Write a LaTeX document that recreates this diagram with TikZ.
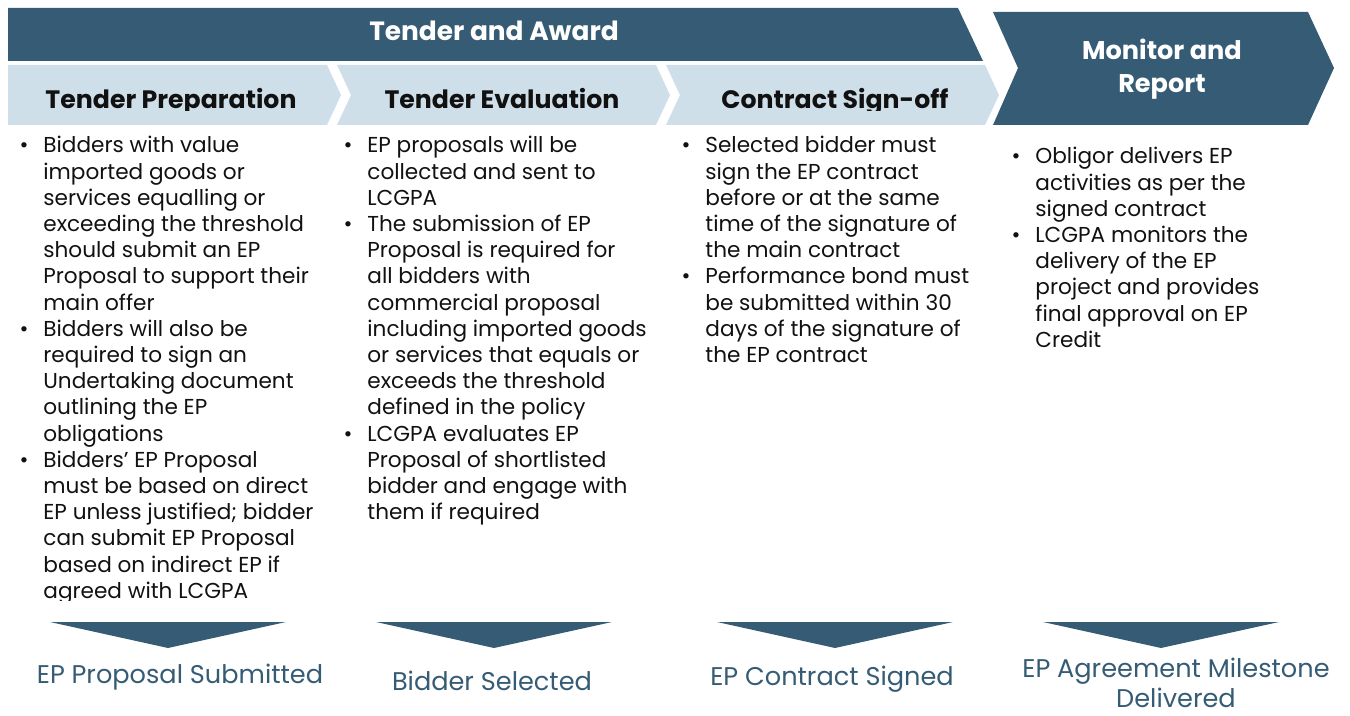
\documentclass[tikz,border=0pt]{standalone}
\usepackage{fontspec}
\setmainfont{Poppins}
\usetikzlibrary{positioning}
\definecolor{tdSlate}{HTML}{365C75}
\definecolor{tdMist}{HTML}{CFDFE9}
\definecolor{tdInk}{HTML}{111111}
\tikzset{
  band/.style={fill=tdSlate, draw=none},
  phase/.style={fill=tdMist, draw=none},
  hdr/.style={font=\bfseries\fontsize{12.6}{15}\selectfont, text=tdInk, inner sep=0pt, anchor=base},
  hdrW/.style={hdr, text=white, align=center, font=\bfseries\fontsize{12.8}{16.5}\selectfont},
  pts/.style={anchor=north west, inner sep=0pt, font=\fontsize{10.8}{13.1}\selectfont, text=tdInk, align=left},
  mile/.style={fill=tdSlate, draw=none},
  lbl/.style={font=\fontsize{12.8}{15.2}\selectfont, text=tdSlate, align=center, inner sep=0pt},
}
\newcommand{\bl}{\llap{\textbullet\hspace{7.5pt}}}

\begin{document}
\begin{tikzpicture}[x=0.5pt, y=-0.5pt]
  \useasboundingbox (0,0) rectangle (1350,716);
  % top band and phase chevrons
  \fill[band] (8,8) -- (958,8) -- (983,61) -- (8,61) -- cycle;
  \fill[phase] (8,65) -- (327,65) -- ++(14,30) -- ++(-14,30) -- (8,125) -- cycle;
  \foreach \l/\r in {337/656,666/985}
    \fill[phase] (\l,65) -- (\r,65) -- ++(14,30) -- ++(-14,30) -- (\l,125) -- ++(14,-30) -- cycle;
  \fill[band] (993,12) -- (1308,12) -- ++(26,56) -- ++(-26,57) -- (993,125) -- ++(25,-57) -- cycle;

  \node[hdrW, font=\bfseries\fontsize{13.2}{16}\selectfont] (award) at (494,41) {Tender and Award};
  \node[hdrW, anchor=center] (monitor) at (1162,69) {Monitor and\\Report};
  \begin{scope}
    \clip (0,65) rectangle (1000,111);
    \node[hdr] (prep) at (171,109) {Tender Preparation};
    \node[hdr] (eval) at (502,109) {Tender Evaluation};
    \node[hdr] (sign) at (835,109) {Contract Sign-off};
  \end{scope}

  % bullet columns
  \begin{scope}
    \clip (0,128) rectangle (340,600);
    \node[pts] (prepTxt) at (43,136) {\bl Bidders with value\\ imported goods or\\ services equalling or\\
      exceeding the threshold\\ should submit an EP\\ Proposal to support their\\ main offer\\
      \bl Bidders will also be\\ required to sign an\\ Undertaking document\\ outlining the EP\\ obligations\\
      \bl Bidders’ EP Proposal\\ must be based on direct\\ EP unless justified; bidder\\
      can submit EP Proposal\\ based on indirect EP if\\ agreed with LCGPA};
  \end{scope}
  \node[pts] (evalTxt) at (367,136) {\bl EP proposals will be\\ collected and sent to\\ LCGPA\\
    \bl The submission of EP\\ Proposal is required for\\ all bidders with\\ commercial proposal\\
    including imported goods\\ or services that equals or\\ exceeds the threshold\\ defined in the policy\\
    \bl LCGPA evaluates EP\\ Proposal of shortlisted\\ bidder and engage with\\ them if required};
  \node[pts] (signTxt) at (705,136) {\bl Selected bidder must\\ sign the EP contract\\ before or at the same\\
    time of the signature of\\ the main contract\\
    \bl Performance bond must\\ be submitted within 30\\ days of the signature of\\ the EP contract};
  \node[pts] (monTxt) at (1035,147) {\bl Obligor delivers EP\\ activities as per the\\ signed contract\\
    \bl LCGPA monitors the\\ delivery of the EP\\ project and provides\\ final approval on EP\\ Credit};

  % milestones
  \foreach \c in {168,494,835,1161}
    \fill[mile] (\c-118,622) -- (\c+118,622) -- (\c,648) -- cycle;
  \node[lbl] (m1) at (180,677) {EP Proposal Submitted};
  \node[lbl] (m2) at (492,681) {Bidder Selected};
  \node[lbl] (m3) at (832,679) {EP Contract Signed};
  \node[lbl] (m4) at (1176,683) {EP Agreement Milestone\\Delivered};
\end{tikzpicture}
\end{document}
